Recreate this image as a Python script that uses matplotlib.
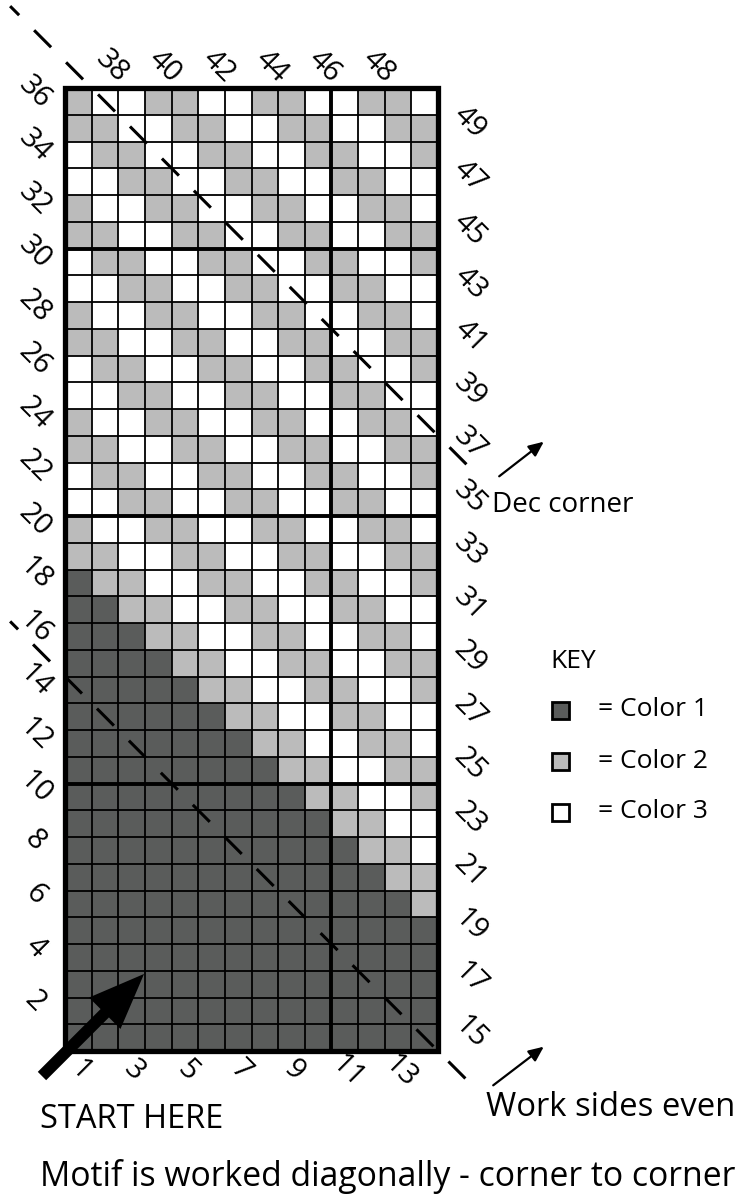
import matplotlib
matplotlib.use("Agg")
import matplotlib.pyplot as plt
import numpy as np
from matplotlib.colors import ListedColormap
from matplotlib.patches import Rectangle, FancyArrowPatch
from matplotlib.lines import Line2D

plt.rcParams['font.family'] = ['Open Sans', 'DejaVu Sans']
plt.rcParams['lines.scale_dashes'] = False

# ---- data: chart rows, top (row 36) to bottom (row 1); D=Color 1, G=Color 2, W=Color 3
chart_rows = [
    "GWWGGWWGGWWGGW",  # 36
    "GGWWGGWWGGWWGG",  # 35
    "WGGWWGGWWGGWWG",  # 34
    "WWGGWWGGWWGGWW",  # 33
    "GWWGGWWGGWWGGW",  # 32
    "GGWWGGWWGGWWGG",  # 31
    "WGGWWGGWWGGWWG",  # 30
    "WWGGWWGGWWGGWW",  # 29
    "GWWGGWWGGWWGGW",  # 28
    "GGWWGGWWGGWWGG",  # 27
    "WGGWWGGWWGGWWG",  # 26
    "WWGGWWGGWWGGWW",  # 25
    "GWWGGWWGGWWGGW",  # 24
    "GGWWGGWWGGWWGG",  # 23
    "WGGWWGGWWGGWWG",  # 22
    "WWGGWWGGWWGGWW",  # 21
    "GWWGGWWGGWWGGW",  # 20
    "GGWWGGWWGGWWGG",  # 19
    "DGGWWGGWWGGWWG",  # 18
    "DDGGWWGGWWGGWW",  # 17
    "DDDGGWWGGWWGGW",  # 16
    "DDDDGGWWGGWWGG",  # 15
    "DDDDDGGWWGGWWG",  # 14
    "DDDDDDGGWWGGWW",  # 13
    "DDDDDDDGGWWGGW",  # 12
    "DDDDDDDDGGWWGG",  # 11
    "DDDDDDDDDGGWWG",  # 10
    "DDDDDDDDDDGGWW",  # 9
    "DDDDDDDDDDDGGW",  # 8
    "DDDDDDDDDDDDGG",  # 7
    "DDDDDDDDDDDDDG",  # 6
    "DDDDDDDDDDDDDD",  # 5
    "DDDDDDDDDDDDDD",  # 4
    "DDDDDDDDDDDDDD",  # 3
    "DDDDDDDDDDDDDD",  # 2
    "DDDDDDDDDDDDDD",  # 1
]
color_codes = ["D", "G", "W"]
color_values = ["#5a5c5b", "#bbbbbb", "#ffffff"]
key_labels = ["= Color 1", "= Color 2", "= Color 3"]

left_labels = [2, 4, 6, 8, 10, 12, 14, 16, 18, 20, 22, 24, 26, 28, 30, 32, 34, 36]
right_labels = [15, 17, 19, 21, 23, 25, 27, 29, 31, 33, 35, 37, 39, 41, 43, 45, 47, 49]
bottom_labels = [1, 3, 5, 7, 9, 11, 13]
top_labels = [38, 40, 42, 44, 46, 48]

n_rows = len(chart_rows)
n_cols = len(chart_rows[0])

W, H = 742, 1196
fig = plt.figure(figsize=(W / 100, H / 100), dpi=100)
gx0, gx1, gy0, gy1 = 65, 438, 88, 1051
ax = fig.add_axes([gx0 / W, (H - gy1) / H, (gx1 - gx0) / W, (gy1 - gy0) / H])

arr = np.array([[color_codes.index(ch) for ch in row] for row in chart_rows[::-1]])
ax.pcolormesh(np.arange(n_cols + 1), np.arange(n_rows + 1), arr,
              cmap=ListedColormap(color_values), vmin=-0.5, vmax=2.5)
ax.set_xlim(0, n_cols)
ax.set_ylim(0, n_rows)
ax.axis('off')

ax.vlines(np.arange(1, n_cols), 0, n_rows, color='black', lw=1.3)
ax.hlines(np.arange(1, n_rows), 0, n_cols, color='black', lw=1.3)
ax.vlines([10], 0, n_rows, color='black', lw=2.8)
ax.hlines([10, 20, 30], 0, n_cols, color='black', lw=2.8)
ax.add_patch(Rectangle((0, 0), n_cols, n_rows, fill=False, lw=3.8,
                       edgecolor='black', clip_on=False, zorder=5))

# diagonal dashed guide lines (x + y = const)
for const, offs in [(37, 8.1), (14, 9.2)]:
    xs = np.array([-2.06, 15.2])
    ln = Line2D(xs, const - xs, color='black', lw=2.2, clip_on=False, zorder=6,
                linestyle=(offs, (17.3, 15.3)))
    ax.add_line(ln)

fs_num = 21
for v in left_labels:
    ax.text(-1.12, v - 0.5 + 0.35, str(v), rotation=-45, ha='center', va='center',
            fontsize=fs_num, clip_on=False, rotation_mode='anchor')
for v in right_labels:
    r = v - 14
    ax.text(15.2, r - 0.5 + 0.2, str(v), rotation=-45, ha='center', va='center',
            fontsize=fs_num, clip_on=False, rotation_mode='anchor')
for v in bottom_labels:
    ax.text(v - 0.5 + 0.1, -0.75, str(v), rotation=-45, ha='center', va='center',
            fontsize=fs_num, clip_on=False, rotation_mode='anchor')
for v in top_labels:
    c = v - 36
    ax.text(c - 0.5 + 0.25, 36.8, str(v), rotation=-45, ha='center', va='center',
            fontsize=fs_num, clip_on=False, rotation_mode='anchor')

# overlay in pixel coordinates
ov = fig.add_axes([0, 0, 1, 1])
ov.set_xlim(0, W)
ov.set_ylim(H, 0)
ov.axis('off')
ov.patch.set_visible(False)

fs_key = 19
ov.text(550, 662, "KEY", fontsize=fs_key, ha='left', va='center')
for i, (col, lab) in enumerate(zip(color_values, key_labels)):
    yc = 710 + i * 51
    ov.add_patch(Rectangle((552, yc - 8.5), 17, 17, facecolor=col, edgecolor='black', lw=2))
    ov.text(598, yc, lab, fontsize=fs_key, ha='left', va='center')

ov.text(492, 505, "Dec corner", fontsize=20, ha='left', va='center')
ov.text(486, 1107, "Work sides even", fontsize=23.6, ha='left', va='center')
ov.text(40, 1120, "START HERE", fontsize=23.5, ha='left', va='center')
ov.text(40, 1176, "Motif is worked diagonally - corner to corner", fontsize=24.3,
        ha='left', va='center')

for (x0, y0, x1, y1) in [(497, 478, 546, 440), (491, 1087, 546, 1045)]:
    ov.add_patch(FancyArrowPatch((x0, y0), (x1, y1),
                                 arrowstyle="-|>,head_length=9,head_width=4",
                                 color='black', lw=1.6, mutation_scale=1))

ov.add_patch(FancyArrowPatch((40, 1078), (146, 972),
                             arrowstyle="simple,head_length=40,head_width=32,tail_width=8.5",
                             color='black', lw=0, mutation_scale=1))

fig.savefig("out.png", dpi=100)
